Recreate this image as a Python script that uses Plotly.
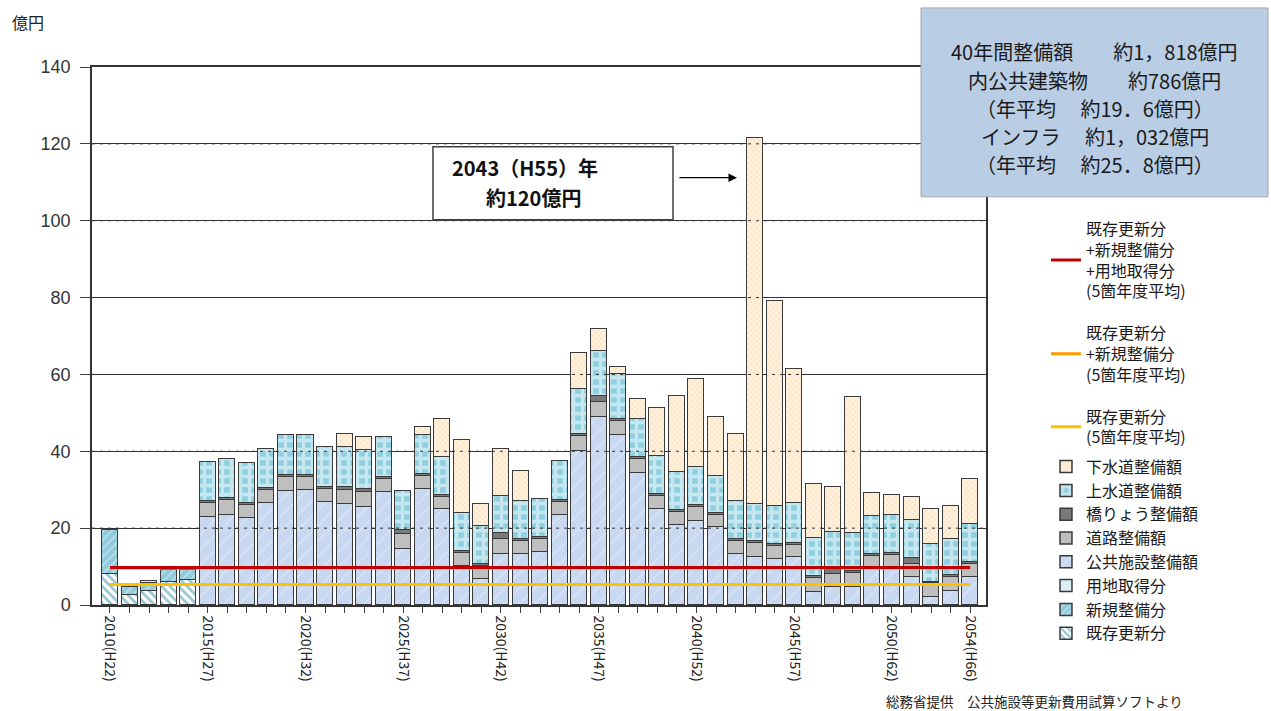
import plotly.graph_objects as go

# ---- data (億円) -------------------------------------------------------
years = list(range(2010, 2055))

label_years = [2010, 2015, 2020, 2025, 2030, 2035, 2040, 2045, 2050, 2054]
label_text = ["2010(H22)", "2015(H27)", "2020(H32)", "2025(H37)", "2030(H42)",
              "2035(H47)", "2040(H52)", "2045(H57)", "2050(H62)", "2054(H66)"]

N_PAST = 5      # 2010-2014 : 既存更新分 / 新規整備分 / 用地取得分
N_FUT = 40      # 2015-2054 : 公共施設・インフラ整備額

kizon = [8.0, 2.5, 3.7, 6.1, 6.4] + [None] * N_FUT          # 既存更新分
shinki = [11.5, 2.3, 2.1, 2.9, 2.8] + [None] * N_FUT        # 新規整備分
youchi = [None, None, 0.5, None, None] + [None] * N_FUT     # 用地取得分

koukyou = [None] * N_PAST + [                                # 公共施設整備額
    23.0, 23.4, 22.6, 26.5, 29.7, 29.9, 26.9, 26.2, 25.4, 29.5,
    14.7, 30.1, 24.9, 10.1, 6.7, 13.2, 13.2, 13.8, 23.3, 40.2,
    49.0, 44.3, 34.4, 24.9, 20.7, 21.9, 20.2, 13.3, 12.4, 11.9,
    12.4, 3.4, 4.8, 4.8, 9.3, 9.4, 7.2, 2.2, 3.7, 7.4]
douro = [None] * N_PAST + [                                  # 道路整備額
    3.6, 3.8, 3.4, 3.4, 3.5, 3.3, 3.4, 3.7, 4.0, 3.4,
    3.8, 3.4, 3.3, 3.4, 3.4, 3.9, 3.4, 3.5, 3.5, 3.8,
    3.8, 3.5, 3.5, 3.5, 3.5, 3.7, 3.3, 3.3, 3.7, 3.5,
    3.3, 3.6, 3.3, 3.4, 3.5, 3.7, 3.6, 3.4, 3.7, 3.3]
kyouryou = [None] * N_PAST + [                               # 橋りょう整備額
    0.5, 0.6, 0.5, 0.6, 0.6, 0.6, 0.5, 0.7, 0.7, 0.5,
    1.0, 0.6, 0.5, 0.5, 0.6, 1.6, 0.5, 0.5, 0.5, 0.5,
    1.6, 0.5, 0.5, 0.5, 0.5, 0.5, 0.5, 0.5, 0.5, 0.5,
    0.5, 0.5, 1.0, 0.6, 0.5, 0.5, 1.4, 0.4, 0.5, 0.5]
jousui = [None] * N_PAST + [                                 # 上水道整備額
    10.0, 10.1, 10.4, 10.2, 10.4, 10.4, 10.2, 10.4, 10.2, 10.3,
    10.2, 10.1, 9.9, 9.9, 9.9, 9.7, 9.9, 9.9, 10.3, 11.8,
    11.8, 11.8, 9.9, 9.9, 9.9, 9.9, 9.7, 9.9, 9.7, 9.9,
    10.3, 9.9, 9.9, 9.9, 9.9, 9.9, 9.9, 9.9, 9.4, 9.9]
gesui = [None] * N_PAST + [                                  # 下水道整備額
    None, None, None, None, None, None, None, 3.5, 3.4, None,
    None, 2.2, 9.7, 19.0, 5.7, 12.3, 8.0, None, None, 9.2,
    5.7, 1.9, 5.2, 12.5, 19.8, 22.9, 15.3, 17.5, 95.1, 53.3,
    34.8, 14.1, 11.8, 35.3, 6.0, 5.0, 5.9, 9.2, 8.5, 11.6]

info_lines = ["40年間整備額　　約1，818億円",
              "内公共建築物　　約786億円",
              "（年平均　 約19．6億円）",
              "インフラ　 約1，032億円",
              "（年平均　 約25．8億円）"]

# ---- 5箇年度平均 (2010-2014) ---------------------------------------------
def _v(a):
    return a if a is not None else 0.0

avg_k = sum(_v(a) for a in kizon[:N_PAST]) / N_PAST
avg_ks = sum(_v(a) + _v(b) for a, b in zip(kizon[:N_PAST], shinki[:N_PAST])) / N_PAST
avg_ksy = sum(_v(a) + _v(b) + _v(c) for a, b, c in
              zip(kizon[:N_PAST], shinki[:N_PAST], youchi[:N_PAST])) / N_PAST

JP = "Noto Sans CJK JP"
GRID = "#333333"
EDGE = dict(color="#3a3a3a", width=1.5)
BAR_W = 0.82

fig = go.Figure()

bar_series = [
    ("既存更新分", kizon, dict(shape="\\", fgcolor="#2f8aa0", bgcolor="#ffffff", size=6, solidity=0.45)),
    ("新規整備分", shinki, dict(shape="/", fgcolor="#e4f4f8", bgcolor="#8fcbdb", size=6, solidity=0.3)),
    ("用地取得分", youchi, None, "#dbeef4"),
    ("公共施設整備額", koukyou, dict(shape="/", fgcolor="#eef3fb", bgcolor="#c7d8f0", size=11, solidity=0.12)),
    ("道路整備額", douro, None, "#bfbfbf"),
    ("橋りょう整備額", kyouryou, None, "#7a7a7a"),
    ("上水道整備額", jousui, dict(shape="+", fgcolor="#ffffff", bgcolor="#8fcfe0", size=9, solidity=0.6)),
    ("下水道整備額", gesui, dict(shape="x", fgcolor="#f8c68c", bgcolor="#fff1de", size=4, solidity=0.3)),
]

for item in bar_series:
    name, vals = item[0], item[1]
    if item[2] is not None:
        pat = item[2]
        marker = dict(color=pat["bgcolor"], pattern=pat, line=EDGE)
    else:
        marker = dict(color=item[3], line=EDGE)
    fig.add_trace(go.Bar(x=years, y=vals, name=name, width=BAR_W,
                         marker=marker, legend="legend2"))

# average lines (red drawn last so it sits on top)
line_series = [
    ("既存更新分<br>(5箇年度平均)", avg_k, "#ffc000", 3, "g3"),
    ("既存更新分<br>+新規整備分<br>(5箇年度平均)", avg_ks, "#ff9900", 2, "g2"),
    ("既存更新分<br>+新規整備分<br>+用地取得分<br>(5箇年度平均)", avg_ksy, "#c00000", 1, "g1"),
]
for name, val, col, rank, grp in line_series:
    fig.add_trace(go.Scatter(x=[years[0], years[-1]], y=[val, val], mode="lines",
                             name=name, line=dict(color=col, width=3),
                             legend="legend", legendrank=rank, legendgroup=grp))

# ---- axes ---------------------------------------------------------------
fig.update_xaxes(
    range=[2009.08, 2054.81],
    tickmode="array", tickvals=years,
    ticktext=[label_text[label_years.index(y)] if y in label_years else "" for y in years],
    tickangle=90, ticks="outside", ticklen=6, tickcolor="#404040",
    tickfont=dict(family=JP, size=14, color="#222222"),
    showline=True, linecolor=GRID, linewidth=1.5, mirror=True,
    showgrid=False, zeroline=False,
)
fig.update_yaxes(
    range=[0, 140], dtick=20, tick0=0,
    ticks="outside", ticklen=10, tickcolor="#404040", ticklabelstandoff=6,
    tickfont=dict(family="Liberation Sans, Arial", size=18, color="#333333"),
    showgrid=True, gridcolor=GRID, gridwidth=1,
    showline=True, linecolor=GRID, linewidth=1.5, mirror=True,
    zeroline=False,
)

# ---- decorations --------------------------------------------------------
shapes = []
for g in range(20, 140, 20):
    shapes.append(dict(type="line", xref="paper", x0=0, x1=1, yref="y", y0=g, y1=g,
                       line=dict(color=GRID, width=1, dash="3px,5px"), layer="above"))
# callout box
shapes.append(dict(type="rect", xref="paper", yref="paper",
                   x0=0.3814, x1=0.6499, y0=0.716, y1=0.8516,
                   fillcolor="#ffffff", line=dict(color="#404040", width=1.5), layer="above"))
# summary box
shapes.append(dict(type="rect", xref="paper", yref="paper",
                   x0=0.9273, x1=1.3154, y0=0.7587, y1=1.1098,
                   fillcolor="#b9cde5", line=dict(color="#a6a6a6", width=1), layer="above"))

annotations = [
    dict(text="億円", xref="paper", yref="paper", x=-0.0917, y=1.0838,
         xanchor="left", yanchor="middle", showarrow=False,
         font=dict(family=JP, size=16, color="#222222")),
    dict(text="<b>2043（H55）年</b>", xref="paper", yref="paper", x=0.4843, y=0.8126,
         xanchor="center", yanchor="middle", showarrow=False,
         font=dict(family=JP, size=20, color="#111111")),
    dict(text="<b>約120億円</b>", xref="paper", yref="paper", x=0.4944, y=0.7569,
         xanchor="center", yanchor="middle", showarrow=False,
         font=dict(family=JP, size=20, color="#111111")),
    dict(text="", x=2042.07, y=111.2, xref="x", yref="y", ax=-59, ay=0,
         showarrow=True, arrowhead=2, arrowsize=1.3, arrowwidth=1.3, arrowcolor="#000000"),
    dict(text="総務省提供　公共施設等更新費用試算ソフトより", xref="paper", yref="paper",
         x=1.0548, y=-0.1776, xanchor="center", yanchor="middle", showarrow=False,
         font=dict(family=JP, size=13.5, color="#222222")),
]
info_y = [1.0281, 0.9742, 0.9222, 0.8702, 0.8182]
for txt, yy in zip(info_lines, info_y):
    annotations.append(dict(text=txt, xref="paper", yref="paper", x=1.1219, y=yy,
                            xanchor="center", yanchor="middle", showarrow=False,
                            font=dict(family=JP, size=20, color="#1a1a1a")))

fig.update_layout(
    width=1271, height=711,
    margin=dict(l=92, r=285, t=67, b=106),
    barmode="stack", bargap=0,
    plot_bgcolor="#ffffff", paper_bgcolor="#ffffff",
    font=dict(family=JP, color="#222222"),
    shapes=shapes, annotations=annotations,
    legend=dict(x=1.0671, y=0.7308, xanchor="left", yanchor="top",
                traceorder="grouped", tracegroupgap=18,
                font=dict(family=JP, size=16, color="#1a1a1a"),
                bgcolor="rgba(0,0,0,0)"),
    legend2=dict(x=1.0671, y=0.2887, xanchor="left", yanchor="top",
                 traceorder="reversed",
                 font=dict(family=JP, size=16, color="#1a1a1a"),
                 bgcolor="rgba(0,0,0,0)"),
)

fig.write_html("out.html")
